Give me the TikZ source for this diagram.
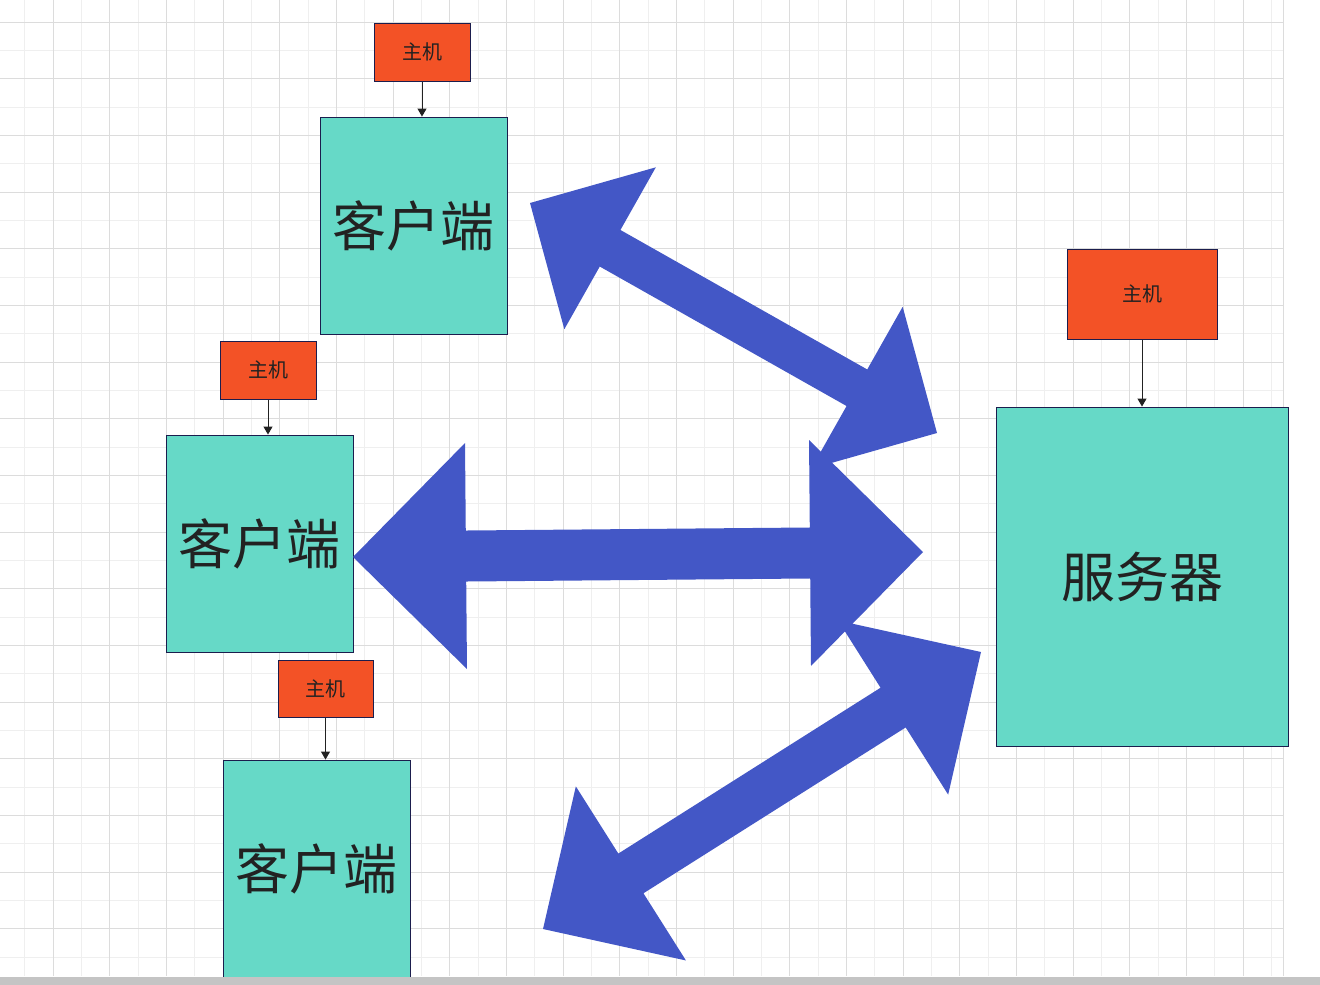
\documentclass[tikz,border=0pt]{standalone}
\usepackage{fontspec}
\newfontfamily\cjk{Noto Sans CJK SC}
\usetikzlibrary{positioning, arrows.meta, calc}

\definecolor{gridminor}{HTML}{EFEFEF}
\definecolor{gridmajor}{HTML}{DCDCDC}
\definecolor{barcolor}{HTML}{C4C4C4}
\definecolor{hostorange}{HTML}{F35226}
\definecolor{clientteal}{HTML}{66D9C7}
\definecolor{boxline}{HTML}{1B1D4D}
\definecolor{textdark}{HTML}{222222}
\definecolor{fatblue}{HTML}{4357C6}

% fat double arrow: from, to, half shaft, head length, head half width
\newcommand{\fatarrow}[5]{%
  \fill[fatblue] (#1) -- ($(#1)!#4!(#2)!#5!90:(#2)$) -- ($(#1)!#4!(#2)!#3!90:(#2)$)
    -- ($(#2)!#4!(#1)!#3!-90:(#1)$) -- ($(#2)!#4!(#1)!#5!-90:(#1)$) -- (#2)
    -- ($(#2)!#4!(#1)!#5!90:(#1)$) -- ($(#2)!#4!(#1)!#3!90:(#1)$)
    -- ($(#1)!#4!(#2)!#3!-90:(#2)$) -- ($(#1)!#4!(#2)!#5!-90:(#2)$) -- cycle;}

\begin{document}
\begin{tikzpicture}[x=1pt, y=-1pt,
        host/.style = {draw=boxline, fill=hostorange, line width=0.9pt, minimum width=96pt, minimum height=58pt, inner sep=0pt, text=textdark, font={\cjk\fontsize{20}{20}\selectfont}},%
        client/.style = {draw=boxline, fill=clientteal, line width=0.9pt, minimum width=187pt, minimum height=217pt, inner sep=0pt, text=textdark, font={\cjk\fontsize{54}{54}\selectfont}},%
        link/.style = {-{Triangle[length=8pt, width=9pt]}, line width=1pt, textdark}%
    ]%
        \useasboundingbox (0,0) rectangle (1320,985);
        % grid
        \foreach \k in {0,...,22} \draw[gridminor, line width=1pt] ({24.67+56.67*\k},0) -- ({24.67+56.67*\k},976);
        \foreach \k in {0,...,16} \draw[gridminor, line width=1pt] (0,{50.33+56.67*\k}) -- (1283,{50.33+56.67*\k});
        \foreach \k in {0,...,21} \draw[gridmajor, line width=1pt] ({53+56.67*\k},0) -- ({53+56.67*\k},976);
        \foreach \k in {0,...,16} \draw[gridmajor, line width=1pt] (0,{22+56.67*\k}) -- (1283,{22+56.67*\k});
        \draw[gridmajor, line width=1pt] (1283,0) -- (1283,976);

        \node[client] (client1) at (413.5,225.5) {客户端};
        \node[client] (client2) at (259.5,543.5) {客户端};
        \node[client] (client3) at (316.5,868.5) {客户端};
        \node[client, minimum width=292pt, minimum height=339pt] (server) at (1142,576.5) {服务器};

        \node[host, above=35pt of client1, xshift=8.5pt] (host1) {主机};
        \node[host, above=35pt of client2, xshift=8.5pt] (host2) {主机};
        \node[host, above=42pt of client3, xshift=9pt, minimum width=95pt, minimum height=57pt] (host3) {主机};
        \node[host, above=67pt of server, minimum width=150pt, minimum height=90pt] (host4) {主机};

        \draw[link] (host1) -- (host1 |- client1.north);
        \draw[link] (host2) -- (host2 |- client2.north);
        \draw[link] (host3) -- (host3 |- client3.north);
        \draw[link] (host4) -- (server);

        \coordinate (a1) at (530,203);
        \coordinate (b1) at (937,433);
        \coordinate (a2) at (353,557);
        \coordinate (b2) at (923,552);
        \coordinate (a3) at (543,929);
        \coordinate (b3) at (981,652);
        \fatarrow{a1}{b1}{21pt}{92pt}{93pt}
        \fatarrow{a2}{b2}{25.5pt}{113pt}{113pt}
        \fatarrow{a3}{b3}{23.5pt}{104pt}{103pt}

        \fill[barcolor] (0,977) rectangle (1320,985);
    \end{tikzpicture}
\end{document}
